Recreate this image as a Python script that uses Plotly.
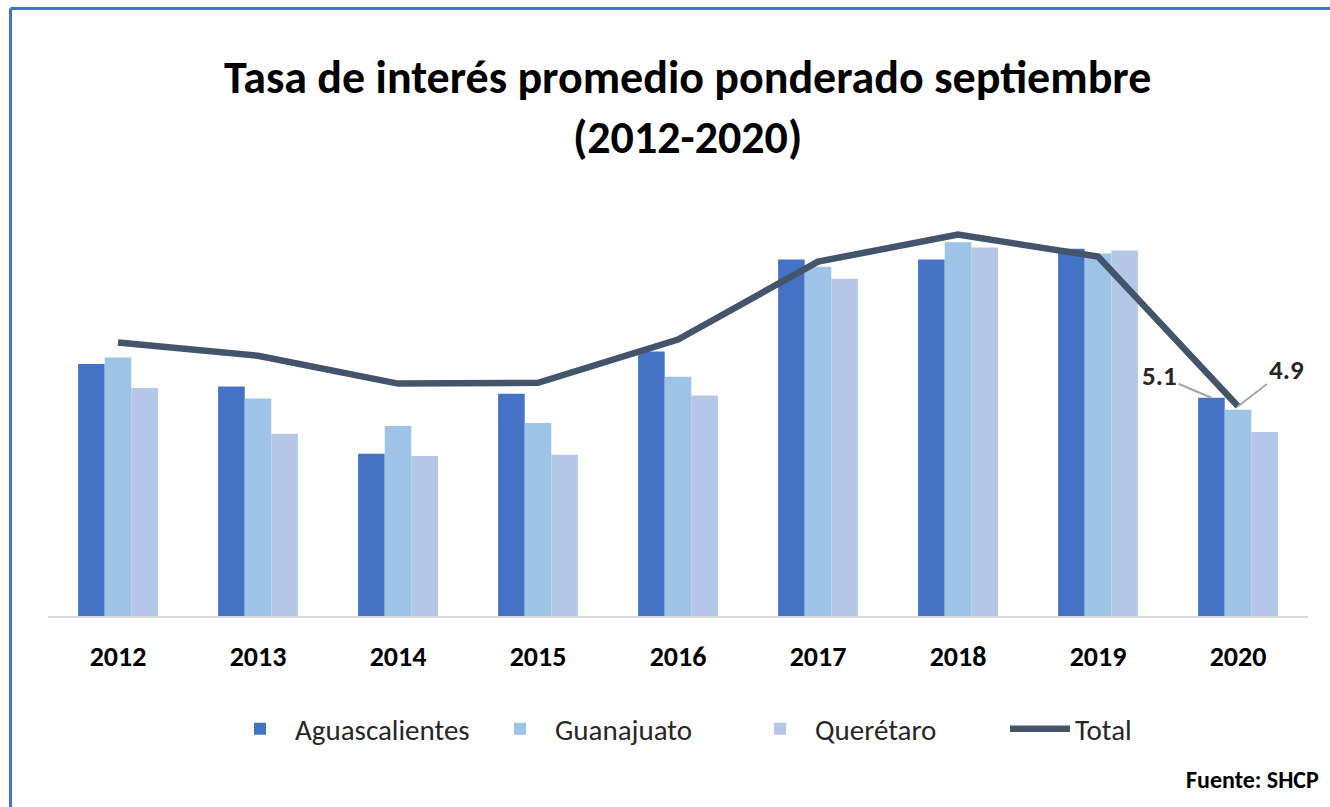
import plotly.graph_objects as go

years = ["2012", "2013", "2014", "2015", "2016", "2017", "2018", "2019", "2020"]
aguascalientes = [5.89, 5.36, 3.79, 5.19, 6.18, 8.33, 8.33, 8.58, 5.1]
guanajuato = [6.04, 5.08, 4.44, 4.51, 5.59, 8.16, 8.73, 8.47, 4.82]
queretaro = [5.33, 4.26, 3.74, 3.77, 5.15, 7.88, 8.61, 8.54, 4.30]
total = [6.39, 6.08, 5.43, 5.45, 6.46, 8.28, 8.91, 8.40, 4.9]

FONT = "Carlito, Lato, 'Open Sans', sans-serif"
W, H = 1330, 807
ML, MR, MT, MB = 48, 22, 188, 191
BARGAP = 0.43

fig = go.Figure()
fig.add_bar(x=years, y=aguascalientes, name="Aguascalientes", marker_color="#4472C4",
            marker_line_width=0)
fig.add_bar(x=years, y=guanajuato, name="Guanajuato", marker_color="#9DC3E6",
            marker_line_width=0)
fig.add_bar(x=years, y=queretaro, name="Querétaro", marker_color="#B4C7E7",
            marker_line_width=0)
fig.add_scatter(x=years, y=total, name="Total", mode="lines",
                line=dict(color="#44546A", width=6.5))

plot_w = W - ML - MR
plot_h = H - MT - MB
cat_w = plot_w / len(years)
bar_w = cat_w * (1 - BARGAP) / 3
last = len(years) - 1  # category index of 2020

# data labels for 2020
fig.add_annotation(x=last, y=aguascalientes[-1], xshift=-bar_w,
                   text="<b>5.1</b>", showarrow=True, arrowhead=0, arrowwidth=2,
                   arrowcolor="#A6A6A6", ax=-52, ay=-22,
                   font=dict(family=FONT, size=27, color="#262626"))
fig.add_annotation(x=last, y=total[-1],
                   text="<b>4.9</b>", showarrow=True, arrowhead=0, arrowwidth=2,
                   arrowcolor="#A6A6A6", ax=48, ay=-37,
                   font=dict(family=FONT, size=27, color="#262626"))


def px_x(px):
    return (px - ML) / plot_w


def px_y(py):
    return (H - MB - py) / plot_h


fig.add_annotation(x=px_x(1321), xref="paper", xanchor="right", y=px_y(779),
                   yref="paper", yanchor="middle",
                   text="<b>Fuente: SHCP</b>", showarrow=False,
                   font=dict(family=FONT, size=24, color="#000000"))

# blue frame (top and left edges)
fig.add_shape(type="line", xref="paper", yref="paper", x0=px_x(10.5), x1=px_x(1340),
              y0=px_y(8.5), y1=px_y(8.5), line=dict(color="#4472C4", width=3))
fig.add_shape(type="line", xref="paper", yref="paper", x0=px_x(10.5), x1=px_x(10.5),
              y0=px_y(8.5), y1=px_y(820), line=dict(color="#4472C4", width=3))

fig.update_layout(
    width=W, height=H,
    margin=dict(l=ML, r=MR, t=MT, b=MB),
    paper_bgcolor="white", plot_bgcolor="white",
    barmode="group", bargap=BARGAP, bargroupgap=0,
    title=dict(text="<b>Tasa de interés promedio ponderado septiembre<br>(2012-2020)</b>",
               x=0.517, xanchor="center", y=1 - 93 / H, yanchor="middle",
               font=dict(family=FONT, size=46, color="#000000")),
    font=dict(family=FONT, color="#000000"),
    showlegend=True,
    legend=dict(orientation="h", x=px_x(225), xanchor="left", y=px_y(729), yanchor="middle",
                font=dict(family=FONT, size=29, color="#262626"),
                traceorder="normal", itemwidth=60, entrywidth=185),
    xaxis=dict(type="category", range=[-0.5, last + 0.5], showline=True,
               linecolor="#D9D9D9", linewidth=2, ticks="",
               tickfont=dict(family=FONT, size=28, color="#000000", weight="bold"),
               ticklabelstandoff=14, showgrid=False),
    yaxis=dict(range=[0, 10], visible=False, showgrid=False, zeroline=False),
)

fig.write_html("out.html", config={"displayModeBar": False},
               post_script="document.body.style.margin='0';")
